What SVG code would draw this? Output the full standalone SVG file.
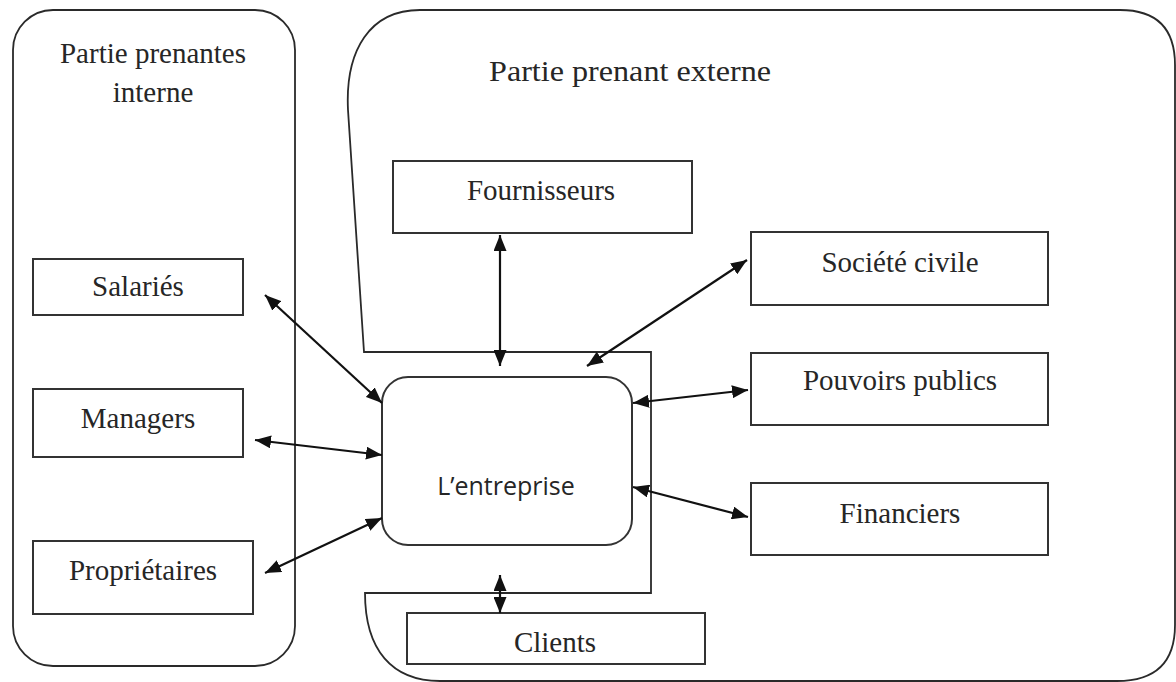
<svg xmlns="http://www.w3.org/2000/svg" width="1176" height="682" viewBox="0 0 1176 682">
  <style>
    .frame { fill: none; stroke: #2a2a2a; stroke-width: 1.8; }
    .box { fill: #ffffff; stroke: #333333; stroke-width: 2; }
    .lbl { font-family: "Liberation Serif", "Times New Roman", serif; font-size: 29px; fill: #262626; text-anchor: middle; }
    .sans { font-family: "Open Sans", "Noto Sans", sans-serif; font-size: 25px; fill: #262626; text-anchor: middle; }
    .conn { stroke: #111111; stroke-width: 2.2; fill: none; marker-start: url(#ah); marker-end: url(#ah); }
  </style>
  <defs>
    <marker id="ah" viewBox="0 0 16 13" refX="16" refY="6.5" markerWidth="16" markerHeight="13" markerUnits="userSpaceOnUse" orient="auto-start-reverse">
      <path d="M0,0 L16,6.5 L0,13 Z" fill="#111111"/>
    </marker>
  </defs>
  <rect width="1176" height="682" fill="#ffffff"/>

  <g id="interne">
    <rect class="frame" x="13" y="10" width="282" height="656" rx="40" ry="40"/>
    <text class="lbl" x="153" y="63">Partie prenantes</text>
    <text class="lbl" x="153" y="102">interne</text>
  </g>

  <g id="externe">
    <path class="frame" d="M364,352 L348,110 C345,50 370,10 420,10 L1120,10 Q1175,10 1175,65 L1175,625 Q1175,681 1117,681 L440,681 C392,681 365,650 365,593 L651,593 L651,352 Z"/>
    <text class="lbl" x="630" y="81" font-size="31" textLength="282" lengthAdjust="spacingAndGlyphs">Partie prenant externe</text>
  </g>

  <g id="salaries">
    <rect class="box" x="33" y="259" width="210" height="56"/>
    <text class="lbl" x="138" y="296">Salariés</text>
  </g>
  <g id="managers">
    <rect class="box" x="33" y="389" width="210" height="68"/>
    <text class="lbl" x="138" y="428">Managers</text>
  </g>
  <g id="proprietaires">
    <rect class="box" x="33" y="541" width="220" height="73"/>
    <text class="lbl" x="143" y="580">Propriétaires</text>
  </g>

  <g id="entreprise">
    <rect class="box" x="382" y="377" width="250" height="168" rx="26" ry="26"/>
    <text class="sans" x="506" y="495">L’entreprise</text>
  </g>

  <g id="fournisseurs">
    <rect class="box" x="393" y="161" width="299" height="72"/>
    <text class="lbl" x="541" y="200">Fournisseurs</text>
  </g>
  <g id="societe">
    <rect class="box" x="751" y="232" width="297" height="73"/>
    <text class="lbl" x="900" y="272">Société civile</text>
  </g>
  <g id="pouvoirs">
    <rect class="box" x="751" y="353" width="297" height="72"/>
    <text class="lbl" x="900" y="390">Pouvoirs publics</text>
  </g>
  <g id="financiers">
    <rect class="box" x="751" y="483" width="297" height="72"/>
    <text class="lbl" x="900" y="523">Financiers</text>
  </g>
  <g id="clients">
    <rect class="box" x="407" y="613" width="298" height="51"/>
    <text class="lbl" x="555" y="652">Clients</text>
  </g>

  <g id="connectors">
    <line class="conn" x1="500" y1="235" x2="500" y2="366"/>
    <line class="conn" x1="747" y1="260" x2="587" y2="366"/>
    <line class="conn" x1="748" y1="390" x2="633" y2="403"/>
    <line class="conn" x1="748" y1="517" x2="633" y2="487"/>
    <line class="conn" x1="500" y1="575" x2="500" y2="613"/>
    <line class="conn" x1="265" y1="295" x2="382" y2="403"/>
    <line class="conn" x1="255" y1="440" x2="382" y2="455"/>
    <line class="conn" x1="265" y1="573" x2="382" y2="518"/>
  </g>
</svg>
